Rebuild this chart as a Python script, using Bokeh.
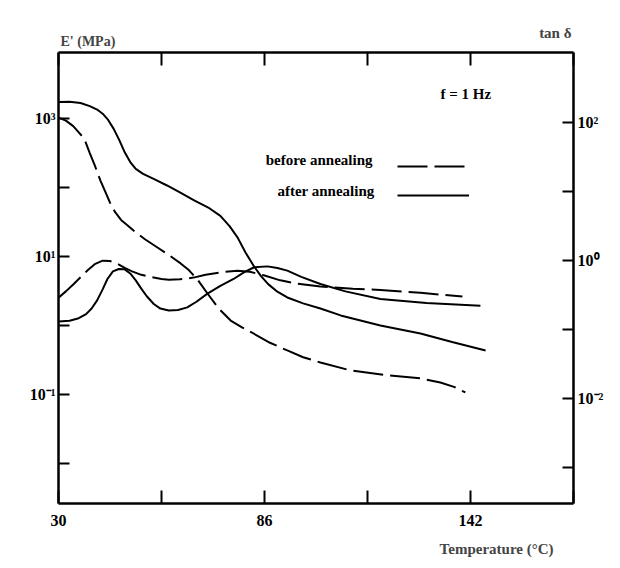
from bokeh.plotting import figure
from bokeh.models import Range1d, LogAxis, LinearAxis, FixedTicker, LogScale, Label, Legend, LegendItem, Title
from bokeh.core.properties import value
from bokeh.embed import file_html
from bokeh.resources import INLINE

# ---------------- data ----------------
# E' (MPa), after annealing (solid)
t_e_after = [30, 33, 36, 38.5, 40.5, 42, 43.5, 45, 46.5, 48, 49.5, 51, 53, 56, 59.5, 63, 67, 71,
             74, 76.5, 78.7, 80.8, 83, 85, 87, 89.5, 92.2, 96.5, 101.2, 106.7, 117.5, 128.4, 137, 146.1]
e_after = [1738, 1746, 1679, 1514, 1349, 1175, 955, 708, 490, 324, 234, 186, 158, 132, 107, 85.1,
           64.6, 50.1, 38.9, 27.5, 18.8, 11.5, 7.41, 5.25, 3.98, 3.09, 2.55, 2.09, 1.76, 1.40, 1.0,
           0.766, 0.575, 0.435]

# E' (MPa), before annealing (dashed)
t_e_before = [30, 32, 34, 35.5, 37, 38.5, 40, 41.4, 42.8, 44, 45.3, 47, 48.8, 50.4, 53.5, 56.9, 60,
              63.2, 65.5, 68, 70.5, 73.5, 76.8, 80, 83, 87.5, 92.2, 96.5, 101.2, 109.4, 119, 128.4,
              133.8, 137.5, 140.6]
e_before = [1033, 933, 776, 631, 513, 316, 200, 126, 85.1, 60.3, 44.7, 33.9, 28.2, 23.8, 17.8, 13.5,
            10.5, 7.94, 6.31, 4.47, 2.91, 1.78, 1.18, 0.933, 0.766, 0.562, 0.435, 0.347, 0.291,
            0.223, 0.191, 0.171, 0.149, 0.129, 0.107]

# tan delta, before annealing (dashed)
t_tan_before = [30, 32, 34, 36, 38, 40, 42, 44, 46, 48, 50, 52.5, 55, 58, 60, 63, 66.7, 70, 74,
                78.7, 82, 86, 90.3, 95, 101.2, 110, 117.5, 128.4, 139.8]
tan_before = [0.288, 0.355, 0.447, 0.568, 0.724, 0.891, 0.989, 0.977, 0.891, 0.776, 0.692, 0.617,
              0.575, 0.537, 0.525, 0.531, 0.562, 0.617, 0.670, 0.708, 0.684, 0.603, 0.513, 0.457,
              0.417, 0.389, 0.372, 0.339, 0.298]

# tan delta, after annealing (solid)
t_tan_after = [30, 33, 35.5, 37.5, 39, 40.5, 42, 43.3, 44.8, 46.4, 48, 49.5, 51, 52.5, 54, 55.9,
               57.7, 60, 62.5, 65, 67.5, 70.4, 74, 77.6, 80.5, 83.2, 86.8, 89.5, 92.2, 96, 101.2,
               108, 117.5, 130, 144.7]
tan_after = [0.130, 0.133, 0.145, 0.166, 0.200, 0.263, 0.380, 0.537, 0.692, 0.750, 0.741, 0.646,
             0.513, 0.389, 0.302, 0.233, 0.200, 0.188, 0.191, 0.208, 0.251, 0.326, 0.427, 0.537,
             0.676, 0.794, 0.818, 0.776, 0.710, 0.575, 0.455, 0.355, 0.275, 0.240, 0.220]

x_ticks = [30, 58, 86, 114, 142, 170]
x_tick_labels = {30: "30", 58: "", 86: "86", 114: "", 142: "142", 170: ""}
e_ticks = [0.01, 0.1, 1, 10, 100, 1000]
e_tick_labels = {0.01: "", 0.1: "10\u207b\u00b9", 1: "", 10: "10\u00b9", 100: "", 1000: "10\u00b3"}
tan_ticks = [0.001, 0.01, 0.1, 1, 10, 100]
tan_tick_labels = {0.001: "", 0.01: "10\u207b\u00b2", 0.1: "", 1: "10\u2070", 10: "", 100: "10\u00b2"}

FONT = "Liberation Serif"

p = figure(width=620, height=568, output_backend="svg", toolbar_location=None,
           x_range=Range1d(30, 170), y_range=Range1d(0.00263, 9057), y_axis_type="log",
           min_border_left=58, min_border_right=47, min_border_top=52, min_border_bottom=65,
           background_fill_color="white", border_fill_color="white")
p.extra_y_ranges = {"tan": Range1d(0.000298, 1033)}
p.extra_y_scales = {"tan": LogScale()}
p.xgrid.visible = False
p.ygrid.visible = False
p.outline_line_color = None


def style(ax, tick_len, standoff):
    ax.axis_line_width = 2.5
    ax.axis_line_color = "black"
    ax.major_tick_in = tick_len
    ax.major_tick_out = 0
    ax.major_tick_line_width = 2
    ax.major_tick_line_color = "black"
    ax.minor_tick_line_color = None
    ax.major_label_text_font = FONT
    ax.major_label_text_font_style = "bold"
    ax.major_label_text_font_size = "16px"
    ax.major_label_text_color = "black"
    ax.major_label_standoff = standoff


xa = p.xaxis[0]
xa.ticker = FixedTicker(ticks=x_ticks)
xa.major_label_overrides = x_tick_labels
style(xa, 13, 11)

ya = p.yaxis[0]
ya.ticker = FixedTicker(ticks=e_ticks)
ya.major_label_overrides = e_tick_labels
style(ya, 11, 3)

top = LinearAxis(ticker=FixedTicker(ticks=x_ticks))
style(top, 13, 0)
top.major_label_text_color = None
top.major_label_text_font_size = "0px"
p.add_layout(top, "above")

ra = LogAxis(y_range_name="tan", ticker=FixedTicker(ticks=tan_ticks))
ra.major_label_overrides = tan_tick_labels
style(ra, 11, 4)
p.add_layout(ra, "right")

r_eb = p.line(t_e_before, e_before, line_width=2, color="black", line_dash="30 7")
r_ea = p.line(t_e_after, e_after, line_width=2, color="black")
p.line(t_tan_before, tan_before, line_width=2, color="black", line_dash="30 7", y_range_name="tan")
p.line(t_tan_after, tan_after, line_width=2, color="black", y_range_name="tan")

legend = Legend(items=[LegendItem(label=value(" "), renderers=[r_eb]),
                       LegendItem(label=value(" "), renderers=[r_ea])],
                location=(339, 295), glyph_width=72, glyph_height=26, spacing=3,
                padding=0, margin=0, label_width=0, label_standoff=0,
                background_fill_alpha=0, border_line_color=None, label_text_font_size="1px")
p.add_layout(legend, "center")


def lab(x, y, text, align="left", size="15px"):
    p.add_layout(Label(x=x, y=y, x_units="screen", y_units="screen", text=text,
                       text_font=FONT, text_font_style="bold", text_font_size=size,
                       text_align=align, text_baseline="middle", text_color="black"))


lab(382, 410, "f = 1 Hz")
lab(314, 344, "before annealing", "right")
lab(316, 313, "after annealing", "right")

# texts outside the frame, as titles in the side panels
p.add_layout(Title(text="E' (MPa)", align="left", offset=2, standoff=8,
                   text_font=FONT, text_font_style="bold", text_font_size="14px"), "above")
p.add_layout(Title(text="tan \u03b4", align="right", offset=2, standoff=-26,
                   text_font=FONT, text_font_style="bold", text_font_size="15px"), "above")
p.add_layout(Title(text="Temperature (\u00b0C)", align="right", offset=20, standoff=20,
                   text_font=FONT, text_font_style="bold", text_font_size="15px"), "below")

open("out.html", "w").write(file_html(p, INLINE))
